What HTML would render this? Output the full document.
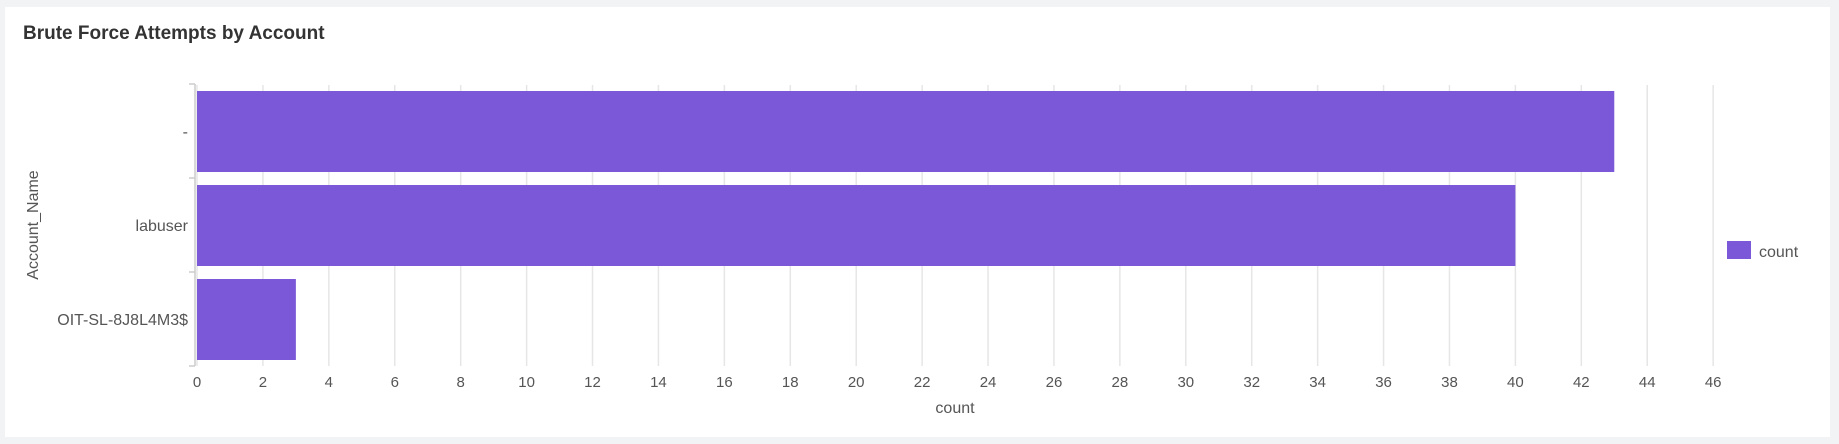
<!DOCTYPE html>
<html><head><meta charset="utf-8"><style>
html,body{margin:0;padding:0;background:#f2f3f5;width:1839px;height:444px;overflow:hidden}
#card{position:absolute;left:5px;top:7px;width:1825px;height:430px;background:#fff}
#title{position:absolute;left:23px;top:23px;font:bold 19px "Liberation Sans",sans-serif;color:#333}
svg{position:absolute;left:0;top:0}
text{font-family:"Liberation Sans",sans-serif;fill:#555}
</style></head><body>
<div id="card"></div>
<div id="title">Brute Force Attempts by Account</div>
<svg id="chart" width="1839" height="444"></svg>
<script>
const categories = ["-", "labuser", "OIT-SL-8J8L4M3$"];
const counts = [43, 40, 3];
const xTicks = [0,2,4,6,8,10,12,14,16,18,20,22,24,26,28,30,32,34,36,38,40,42,44,46];

const NS="http://www.w3.org/2000/svg";
const svgEl=document.getElementById('chart');
const x0=197, unit=32.96, yTop=84, band=94;
const xs=v=>x0+v*unit;
const ys=i=>yTop+i*band;
function mk(t,a){const e=document.createElementNS(NS,t);for(const k in a)e.setAttribute(k,a[k]);svgEl.appendChild(e);return e;}
xTicks.forEach(v=>{
  const g=mk('line',{x1:xs(v),x2:xs(v),y1:85,y2:366,stroke:'#e6e6e6','stroke-width':1.5});
  
  
  const t=mk('text',{x:xs(v),y:387,'text-anchor':'middle','font-size':15});
  t.textContent=v;
  
  
});
const ax=mk('line',{x1:195,x2:195,y1:yTop,y2:yTop+band*categories.length,stroke:'#ccc','stroke-width':1.5});


for(let i=0;i<=categories.length;i++){
  const tk=mk('line',{x1:189,x2:195,y1:ys(i),y2:ys(i),stroke:'#ccc','stroke-width':1.5});
  
  
}
categories.forEach((c,i)=>{
  const r=mk('rect',{x:x0,y:ys(i)+7,width:xs(counts[i])-x0,height:81,fill:'#7b58d8'});
  
  
  const t=mk('text',{x:188,y:ys(i)+band/2+6,'text-anchor':'end','font-size':16});
  t.textContent=c;
  
  
});
const xt=mk('text',{x:955,y:413,'text-anchor':'middle','font-size':16});
xt.textContent='count';


const yt=mk('text',{x:0,y:0,'text-anchor':'middle','font-size':16,transform:'translate(38,225) rotate(-90)'});
yt.textContent='Account_Name';


const lr=mk('rect',{x:1727,y:241,width:24,height:18,fill:'#7b58d8'});


const lt=mk('text',{x:1759,y:257,'font-size':16});
lt.textContent='count';


</script>
</body></html>
